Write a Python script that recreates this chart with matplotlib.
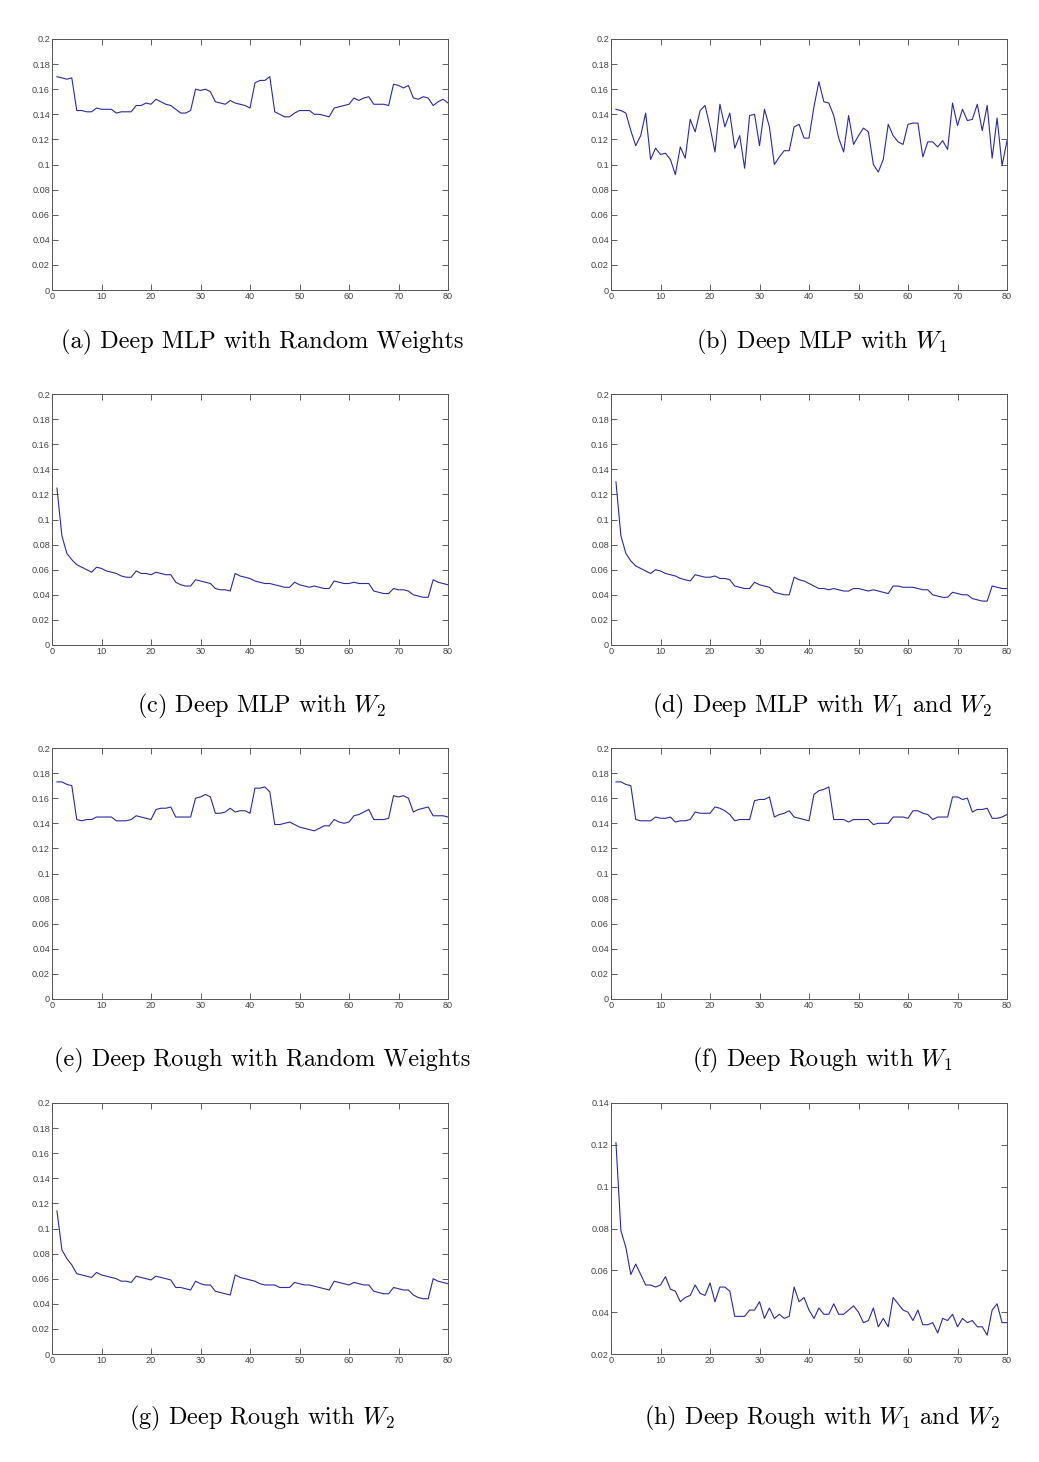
import numpy as np
import matplotlib
matplotlib.use('Agg')
import matplotlib.pyplot as plt
from matplotlib.ticker import FuncFormatter

plt.rcParams['mathtext.fontset'] = 'cm'

# epochs 1..80
epochs = np.arange(1, 81)

mlp_random = [
    0.170, 0.169, 0.168, 0.169, 0.143, 0.143, 0.142, 0.142, 0.145, 0.144,
    0.144, 0.144, 0.141, 0.142, 0.142, 0.142, 0.147, 0.147, 0.149, 0.148,
    0.152, 0.150, 0.148, 0.147, 0.144, 0.141, 0.141, 0.143, 0.160, 0.159,
    0.160, 0.158, 0.150, 0.149, 0.148, 0.151, 0.149, 0.148, 0.147, 0.145,
    0.165, 0.167, 0.167, 0.170, 0.142, 0.140, 0.138, 0.138, 0.141, 0.143,
    0.143, 0.143, 0.140, 0.140, 0.139, 0.138, 0.145, 0.146, 0.147, 0.148,
    0.153, 0.151, 0.153, 0.154, 0.148, 0.148, 0.148, 0.147, 0.164, 0.163,
    0.161, 0.163, 0.153, 0.152, 0.154, 0.153, 0.147, 0.150, 0.152, 0.149,
]

mlp_w1 = [
    0.144, 0.143, 0.141, 0.127, 0.115, 0.123, 0.141, 0.104, 0.113, 0.108,
    0.109, 0.104, 0.092, 0.114, 0.105, 0.136, 0.126, 0.143, 0.147, 0.130,
    0.110, 0.148, 0.130, 0.141, 0.113, 0.123, 0.097, 0.139, 0.140, 0.115,
    0.144, 0.130, 0.100, 0.106, 0.111, 0.111, 0.130, 0.132, 0.121, 0.121,
    0.146, 0.166, 0.150, 0.149, 0.139, 0.121, 0.110, 0.139, 0.116, 0.123,
    0.129, 0.126, 0.100, 0.094, 0.104, 0.132, 0.123, 0.118, 0.116, 0.132,
    0.133, 0.133, 0.106, 0.118, 0.118, 0.114, 0.119, 0.112, 0.149, 0.131,
    0.144, 0.135, 0.136, 0.148, 0.127, 0.147, 0.105, 0.137, 0.099, 0.119,
]

mlp_w2 = [
    0.125, 0.087, 0.073, 0.068, 0.064, 0.062, 0.060, 0.058, 0.062, 0.061,
    0.059, 0.058, 0.057, 0.055, 0.054, 0.054, 0.059, 0.057, 0.057, 0.056,
    0.058, 0.057, 0.056, 0.056, 0.050, 0.048, 0.047, 0.047, 0.052, 0.051,
    0.050, 0.049, 0.045, 0.044, 0.044, 0.043, 0.057, 0.055, 0.054, 0.053,
    0.051, 0.050, 0.049, 0.049, 0.048, 0.047, 0.046, 0.046, 0.050, 0.048,
    0.047, 0.046, 0.047, 0.046, 0.045, 0.045, 0.051, 0.050, 0.049, 0.049,
    0.050, 0.049, 0.049, 0.049, 0.043, 0.042, 0.041, 0.041, 0.045, 0.044,
    0.044, 0.043, 0.040, 0.039, 0.038, 0.038, 0.052, 0.050, 0.049, 0.048,
]

mlp_w1w2 = [
    0.130, 0.087, 0.073, 0.067, 0.063, 0.061, 0.059, 0.057, 0.060, 0.059,
    0.057, 0.056, 0.055, 0.053, 0.052, 0.051, 0.056, 0.055, 0.054, 0.054,
    0.055, 0.053, 0.053, 0.052, 0.047, 0.046, 0.045, 0.045, 0.050, 0.048,
    0.047, 0.046, 0.042, 0.041, 0.040, 0.040, 0.054, 0.052, 0.051, 0.049,
    0.047, 0.045, 0.045, 0.044, 0.045, 0.044, 0.043, 0.043, 0.045, 0.045,
    0.044, 0.043, 0.044, 0.043, 0.042, 0.041, 0.047, 0.047, 0.046, 0.046,
    0.046, 0.045, 0.044, 0.044, 0.040, 0.039, 0.038, 0.038, 0.042, 0.041,
    0.040, 0.040, 0.037, 0.036, 0.035, 0.035, 0.047, 0.046, 0.045, 0.045,
]

rough_random = [
    0.173, 0.173, 0.171, 0.170, 0.143, 0.142, 0.143, 0.143, 0.145, 0.145,
    0.145, 0.145, 0.142, 0.142, 0.142, 0.143, 0.146, 0.145, 0.144, 0.143,
    0.151, 0.152, 0.152, 0.153, 0.145, 0.145, 0.145, 0.145, 0.160, 0.161,
    0.163, 0.161, 0.148, 0.148, 0.149, 0.152, 0.149, 0.150, 0.150, 0.148,
    0.168, 0.168, 0.169, 0.165, 0.139, 0.139, 0.140, 0.141, 0.139, 0.137,
    0.136, 0.135, 0.134, 0.136, 0.138, 0.138, 0.143, 0.141, 0.140, 0.141,
    0.146, 0.147, 0.149, 0.151, 0.143, 0.143, 0.143, 0.144, 0.162, 0.161,
    0.162, 0.160, 0.149, 0.151, 0.152, 0.153, 0.146, 0.146, 0.146, 0.145,
]

rough_w1 = [
    0.173, 0.173, 0.171, 0.170, 0.143, 0.142, 0.142, 0.142, 0.145, 0.144,
    0.144, 0.145, 0.141, 0.142, 0.142, 0.143, 0.149, 0.148, 0.148, 0.148,
    0.153, 0.152, 0.150, 0.147, 0.142, 0.143, 0.143, 0.143, 0.158, 0.159,
    0.159, 0.161, 0.145, 0.147, 0.148, 0.150, 0.145, 0.144, 0.143, 0.142,
    0.163, 0.166, 0.167, 0.169, 0.143, 0.143, 0.143, 0.141, 0.143, 0.143,
    0.143, 0.143, 0.139, 0.140, 0.140, 0.140, 0.145, 0.145, 0.145, 0.144,
    0.150, 0.150, 0.148, 0.147, 0.143, 0.145, 0.145, 0.145, 0.161, 0.161,
    0.159, 0.160, 0.149, 0.151, 0.151, 0.152, 0.144, 0.144, 0.145, 0.147,
]

rough_w2 = [
    0.114, 0.083, 0.076, 0.071, 0.064, 0.063, 0.062, 0.061, 0.065, 0.063,
    0.062, 0.061, 0.060, 0.058, 0.058, 0.057, 0.062, 0.061, 0.060, 0.059,
    0.062, 0.061, 0.060, 0.059, 0.053, 0.053, 0.052, 0.051, 0.058, 0.056,
    0.055, 0.055, 0.050, 0.049, 0.048, 0.047, 0.063, 0.061, 0.060, 0.059,
    0.058, 0.056, 0.055, 0.055, 0.055, 0.053, 0.053, 0.053, 0.057, 0.056,
    0.055, 0.055, 0.054, 0.053, 0.052, 0.051, 0.058, 0.057, 0.056, 0.055,
    0.057, 0.056, 0.055, 0.055, 0.050, 0.049, 0.048, 0.048, 0.053, 0.052,
    0.051, 0.051, 0.047, 0.045, 0.044, 0.044, 0.060, 0.058, 0.057, 0.056,
]

rough_w1w2 = [
    0.121, 0.079, 0.071, 0.058, 0.063, 0.058, 0.053, 0.053, 0.052, 0.053,
    0.057, 0.051, 0.050, 0.045, 0.047, 0.048, 0.053, 0.049, 0.048, 0.054,
    0.045, 0.052, 0.052, 0.050, 0.038, 0.038, 0.038, 0.041, 0.041, 0.045,
    0.037, 0.042, 0.037, 0.039, 0.037, 0.038, 0.052, 0.045, 0.047, 0.041,
    0.037, 0.042, 0.039, 0.039, 0.044, 0.039, 0.039, 0.041, 0.043, 0.040,
    0.035, 0.036, 0.042, 0.033, 0.037, 0.033, 0.047, 0.044, 0.041, 0.040,
    0.036, 0.041, 0.034, 0.034, 0.035, 0.030, 0.037, 0.036, 0.039, 0.033,
    0.037, 0.035, 0.036, 0.033, 0.033, 0.029, 0.041, 0.044, 0.035, 0.035,
]

captions = [
    "(a) Deep MLP with Random Weights",
    r"(b) Deep MLP with $W_1$",
    r"(c) Deep MLP with $W_2$",
    r"(d) Deep MLP with $W_1$ and $W_2$",
    "(e) Deep Rough with Random Weights",
    r"(f) Deep Rough with $W_1$",
    r"(g) Deep Rough with $W_2$",
    r"(h) Deep Rough with $W_1$ and $W_2$",
]
series = [mlp_random, mlp_w1, mlp_w2, mlp_w1w2,
          rough_random, rough_w1, rough_w2, rough_w1w2]
ylims = [(0, 0.2)] * 7 + [(0.02, 0.14)]

W, H = 1039, 1462
fig = plt.figure(figsize=(W / 100, H / 100), dpi=100)

col_left = [52, 611]
col_caption = [262, 822]
row_top = [39, 394, 748, 1103]
row_caption = [342, 706, 1060, 1418]
ax_w, ax_h = 396, 251


def g_fmt(v, pos):
    return "%g" % round(v, 4)


for i, (vals, cap, ylim) in enumerate(zip(series, captions, ylims)):
    r, c = divmod(i, 2)
    ax = fig.add_axes([col_left[c] / W, 1 - (row_top[r] + ax_h) / H,
                       ax_w / W, ax_h / H])
    ax.plot(epochs, vals, color='#2b2b9c', linewidth=0.8)
    ax.set_xlim(0, 80)
    ax.set_ylim(*ylim)
    ax.set_xticks(np.arange(0, 81, 10))
    ax.set_yticks(np.arange(ylim[0], ylim[1] + 1e-9, 0.02))
    ax.yaxis.set_major_formatter(FuncFormatter(g_fmt))
    ax.tick_params(direction='in', length=4, width=0.6, top=True, right=True,
                   labelsize=6.6, colors='#444444', pad=1.5)
    for lab in ax.get_xticklabels() + ax.get_yticklabels():
        lab.set_fontfamily('Liberation Sans')
    for sp in ax.spines.values():
        sp.set_color('#555555')
        sp.set_linewidth(0.7)
    fig.text(col_caption[c] / W, 1 - row_caption[r] / H, cap,
             ha='center', va='center', fontsize=17.5,
             family='cmr10')

fig.savefig('out.png', dpi=100)
